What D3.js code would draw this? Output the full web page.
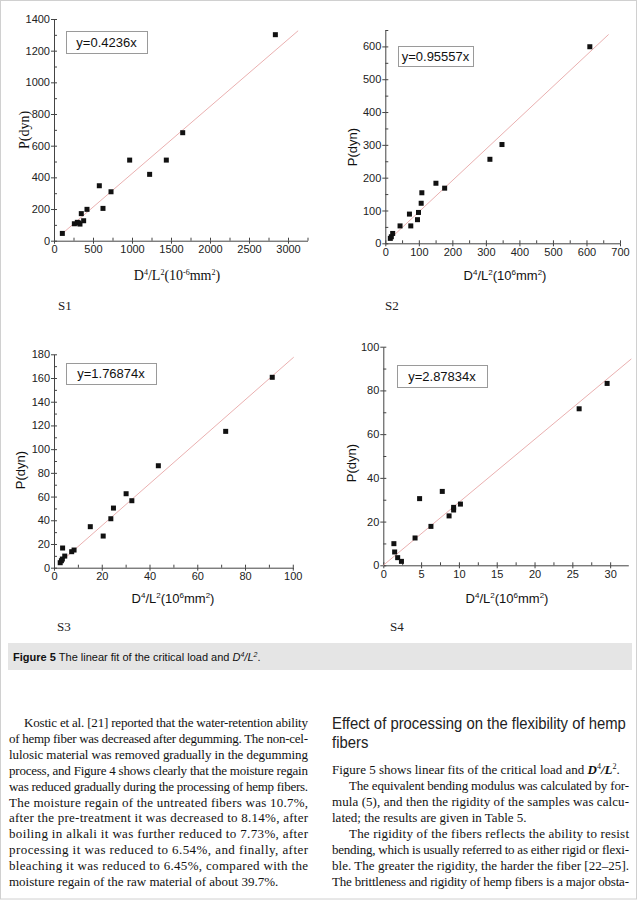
<!DOCTYPE html>
<html><head><meta charset="utf-8">
<script src="https://cdn.jsdelivr.net/npm/d3@7"></script>
<style>body{margin:0;background:#fff}svg{display:block}</style>
</head><body>
<svg id="c" width="640" height="900"></svg>
<script>
// ---- data ----
const s1X = [107, 261, 299, 333, 315, 350, 380, 423, 581, 628, 731, 970, 1226, 1440, 1650, 2838];
const s1Y = [46, 107, 116, 105, 112, 171, 126, 198, 347, 204, 309, 509, 419, 509, 682, 1301];
const s2X = [15, 18, 22, 44, 72, 76, 96, 99, 107, 109, 151, 177, 312, 348, 610];
const s2Y = [15, 20, 30, 53, 89, 53, 72, 94, 122, 154, 183, 168, 256, 301, 599];
const s3X = [2.6, 3.1, 3.6, 3.5, 4.5, 7.4, 8.4, 15.2, 20.6, 23.8, 24.9, 30.2, 32.6, 43.7, 71.9, 91.4];
const s3Y = [4.2, 5.9, 16.6, 7.3, 9.8, 13.5, 14.9, 34.6, 26.7, 41.3, 50.3, 62.4, 56.5, 86, 115, 160.6];
const s4X = [1.4, 1.5, 1.9, 2.4, 4.2, 4.8, 6.3, 7.8, 8.7, 9.3, 9.3, 10.2, 25.9, 29.6];
const s4Y = [9.9, 6.1, 3.5, 1.8, 12.5, 30.5, 17.8, 33.8, 22.6, 25.3, 26.5, 28, 71.6, 83.2];
const slopes = [0.4236, 0.95557, 1.76874, 2.87834];
const fitLabels = ["y=0.4236x", "y=0.95557x", "y=1.76874x", "y=2.87834x"];
const fitRanges = [[100, 3130], [12, 666], [4, 100.4], [0, 32.8]];
const panelNames = ["S1", "S2", "S3", "S4"];
const s1XTicks = [0, 500, 1000, 1500, 2000, 2500, 3000];
const s1YTicks = [0, 200, 400, 600, 800, 1000, 1200, 1400];
const s2XTicks = [0, 100, 200, 300, 400, 500, 600, 700];
const s2YTicks = [0, 100, 200, 300, 400, 500, 600];
const s3XTicks = [0, 20, 40, 60, 80, 100];
const s3YTicks = [0, 20, 40, 60, 80, 100, 120, 140, 160, 180];
const s4XTicks = [0, 5, 10, 15, 20, 25, 30];
const s4YTicks = [0, 20, 40, 60, 80, 100];

const leftPara = [
 "Kostic et al. [21] reported that the water-retention ability",
 "of hemp fiber was decreased after degumming. The non-cel-",
 "lulosic material was removed gradually in the degumming",
 "process, and Figure 4 shows clearly that the moisture regain",
 "was reduced gradually during the processing of hemp fibers.",
 "The moisture regain of the untreated fibers was 10.7%,",
 "after the pre-treatment it was decreased to 8.14%, after",
 "boiling in alkali it was further reduced to 7.73%, after",
 "processing it was reduced to 6.54%, and finally, after",
 "bleaching it was reduced to 6.45%, compared with the",
 "moisture regain of the raw material of about 39.7%."
];
const rightHeading = ["Effect of processing on the flexibility of hemp", "fibers"];
const rightPara = [
 "The equivalent bending modulus was calculated by for-",
 "mula (5), and then the rigidity of the samples was calcu-",
 "lated; the results are given in Table 5.",
 "The rigidity of the fibers reflects the ability to resist",
 "bending, which is usually referred to as either rigid or flexi-",
 "ble. The greater the rigidity, the harder the fiber [22–25].",
 "The brittleness and rigidity of hemp fibers is a major obsta-"
];

// ---- layout ----
const svg = d3.select("#c");
svg.append("rect").attr("x",0.5).attr("y",0.5).attr("width",636).attr("height",898.5)
  .attr("fill","none").attr("stroke","#d0d0d0");

const panels = [
 {x:s1X,y:s1Y,xt:s1XTicks,yt:s1YTicks,xd:[0,3250],yd:[0,1400],xm:250,ym:100,
  L:54,R:307.5,T:19,B:240.7,box:[66,31,81,22],serif:true,sup:"-6",
  ylab:[25,130],xlab:[177,276],name:[58,310]},
 {x:s2X,y:s2Y,xt:s2XTicks,yt:s2YTicks,xd:[0,700],yd:[0,650],xm:50,ym:50,
  L:385.3,R:620,T:30,B:243.3,box:[398,46,75,20],serif:false,sup:"6",
  ylab:[353,147],xlab:[505,276],name:[385,310]},
 {x:s3X,y:s3Y,xt:s3XTicks,yt:s3YTicks,xd:[0,100.3],yd:[0,180],xm:10,ym:10,
  L:54,R:293.5,T:354.3,B:567.7,box:[66,363,90,21],serif:false,sup:"6",
  ylab:[21,470],xlab:[173,599],name:[57,631]},
 {x:s4X,y:s4Y,xt:s4XTicks,yt:s4YTicks,xd:[0,32.4],yd:[0,100],xm:2.5,ym:10,
  L:383.3,R:628.3,T:346.7,B:565.3,box:[397,365,90,22],serif:false,sup:"6",
  ylab:[352,463],xlab:[507,599],name:[390,631]}
];

const sans = "'Liberation Sans', Arial, sans-serif";
const serif = "'Liberation Serif', 'Times New Roman', serif";

panels.forEach((p, i) => {
  const xs = d3.scaleLinear().domain(p.xd).range([p.L, p.R]);
  const ys = d3.scaleLinear().domain(p.yd).range([p.B, p.T]);
  const g = svg.append("g");

  // minor ticks (inward)
  const xMinor = d3.range(0, p.xd[1] + 1e-9, p.xm);
  const yMinor = d3.range(0, p.yd[1] + 1e-9, p.ym);
  g.append("g").attr("transform",`translate(0,${p.B})`)
    .call(d3.axisBottom(xs).tickValues(xMinor).tickSize(-3).tickSizeOuter(0).tickFormat(""))
    .call(a=>a.select(".domain").remove()).selectAll("line").attr("stroke","#444");
  g.append("g").attr("transform",`translate(${p.L},0)`)
    .call(d3.axisLeft(ys).tickValues(yMinor).tickSize(-3).tickSizeOuter(0).tickFormat(""))
    .call(a=>a.select(".domain").remove()).selectAll("line").attr("stroke","#444");

  // major axes
  const xa = g.append("g").attr("transform",`translate(0,${p.B})`)
    .call(d3.axisBottom(xs).tickValues(p.xt).tickSize(3).tickSizeOuter(0).tickPadding(2).tickFormat(d3.format("d")));
  const ya = g.append("g").attr("transform",`translate(${p.L},0)`)
    .call(d3.axisLeft(ys).tickValues(p.yt).tickSize(3).tickSizeOuter(0).tickPadding(1).tickFormat(d3.format("d")));
  [xa, ya].forEach(a => {
    a.select(".domain").attr("stroke","#444");
    a.selectAll("line").attr("stroke","#444");
    a.selectAll("text").attr("font-family",sans).attr("font-size",11).attr("fill","#222");
  });

  // fit line
  const fr = fitRanges[i];
  g.append("line")
    .attr("x1", xs(fr[0])).attr("y1", ys(slopes[i]*fr[0]))
    .attr("x2", xs(fr[1])).attr("y2", ys(slopes[i]*fr[1]))
    .attr("stroke","#eab0b0").attr("stroke-width",1);

  // points
  g.selectAll("rect.pt").data(p.x.map((v,k)=>[v,p.y[k]])).join("rect")
    .attr("class","pt")
    .attr("x", d=>xs(d[0])-2.5).attr("y", d=>ys(d[1])-2.5)
    .attr("width",5).attr("height",5).attr("fill","#111");

  // legend box
  const b = p.box;
  g.append("rect").attr("x",b[0]+0.5).attr("y",b[1]+0.5).attr("width",b[2]).attr("height",b[3])
    .attr("fill","#fff").attr("stroke","#9a9a9a");
  g.append("text").attr("x",b[0]+b[2]/2).attr("y",b[1]+b[3]/2+4.5)
    .attr("text-anchor","middle").attr("font-family",sans).attr("font-size",13).attr("fill","#111")
    .text(fitLabels[i]);

  // axis titles
  const ff = p.serif ? serif : sans;
  const fs = p.serif ? 14 : 13;
  g.append("text").attr("transform",`translate(${p.ylab[0]+4},${p.ylab[1]}) rotate(-90)`)
    .attr("text-anchor","middle").attr("font-family",ff).attr("font-size",fs).attr("fill","#111")
    .text("P(dyn)");
  const xt = g.append("text").attr("x",p.xlab[0]).attr("y",p.xlab[1]+4)
    .attr("text-anchor","middle").attr("font-family",ff).attr("font-size",fs).attr("fill","#111");
  xt.append("tspan").text("D");
  xt.append("tspan").attr("font-size",8).attr("dy",-5).text("4");
  xt.append("tspan").attr("dy",5).text("/L");
  xt.append("tspan").attr("font-size",8).attr("dy",-5).text("2");
  xt.append("tspan").attr("dy",5).text("(10");
  xt.append("tspan").attr("font-size",8).attr("dy",-5).text(p.sup);
  xt.append("tspan").attr("dy",5).text("mm");
  xt.append("tspan").attr("font-size",8).attr("dy",-5).text("2");
  xt.append("tspan").attr("dy",5).text(")");

  // panel name
  svg.append("text").attr("x",p.name[0]).attr("y",p.name[1]).attr("font-family",serif)
    .attr("font-size",13).attr("fill","#222").text(panelNames[i]);
});

// caption band
svg.append("rect").attr("x",8).attr("y",643).attr("width",624).attr("height",27).attr("fill","#e5e5e5");
const cap = svg.append("text").attr("x",13).attr("y",661)
  .attr("font-family","'Liberation Sans Narrow', 'Liberation Sans', sans-serif").attr("font-size",11).attr("fill","#111");
cap.append("tspan").attr("font-weight","bold").text("Figure 5 ");
cap.append("tspan").text(" The linear fit of the critical load and ");
cap.append("tspan").attr("font-style","italic").text("D");
cap.append("tspan").attr("font-style","italic").attr("font-size",7).attr("dy",-4).text("4");
cap.append("tspan").attr("font-style","italic").attr("dy",4).text("/L");
cap.append("tspan").attr("font-style","italic").attr("font-size",7).attr("dy",-4).text("2");
cap.append("tspan").attr("dy",4).text(".");

// left paragraph (justified)
leftPara.forEach((t, k) => {
  const x0 = k === 0 ? 24 : 9;
  const el = svg.append("text").attr("x",x0).attr("y",727 + k*15.9)
    .attr("font-family",serif).attr("font-size",13).attr("fill","#111").text(t);
  if (k < leftPara.length - 1) el.attr("textLength", 308 - x0).attr("lengthAdjust","spacing");
});

// right heading (condensed via horizontal scale)
const hg = svg.append("g").attr("fill","#222");
const h0 = hg.append("text").attr("font-family",sans).attr("font-size",16).text(rightHeading[0]);
const natW = h0.node().getComputedTextLength();
const sx = 294 / natW;
h0.attr("transform",`translate(332,729) scale(${sx},1)`);
hg.append("text").attr("font-family",sans).attr("font-size",16)
  .attr("transform",`translate(332,748) scale(${sx},1)`).text(rightHeading[1]);

// right paragraph
const fp = svg.append("text").attr("x",332).attr("y",774).attr("font-family",serif).attr("font-size",13).attr("fill","#111");
fp.append("tspan").text("Figure 5 shows linear fits of the critical load and ");
fp.append("tspan").attr("font-weight","bold").attr("font-style","italic").text("D");
fp.append("tspan").attr("font-size",8).attr("dy",-5).text("4");
fp.append("tspan").attr("dy",5).attr("font-style","italic").attr("font-weight","bold").text("/L");
fp.append("tspan").attr("font-size",8).attr("dy",-5).text("2");
fp.append("tspan").attr("dy",5).text(".");
rightPara.forEach((t, k) => {
  const indent = (k === 0 || k === 3);
  const x0 = indent ? 349 : 332;
  const el = svg.append("text").attr("x",x0).attr("y",790 + k*16)
    .attr("font-family",serif).attr("font-size",13).attr("fill","#111").text(t);
  if (k !== 2) el.attr("textLength", 629 - x0).attr("lengthAdjust","spacing");
});
</script>
</body></html>
